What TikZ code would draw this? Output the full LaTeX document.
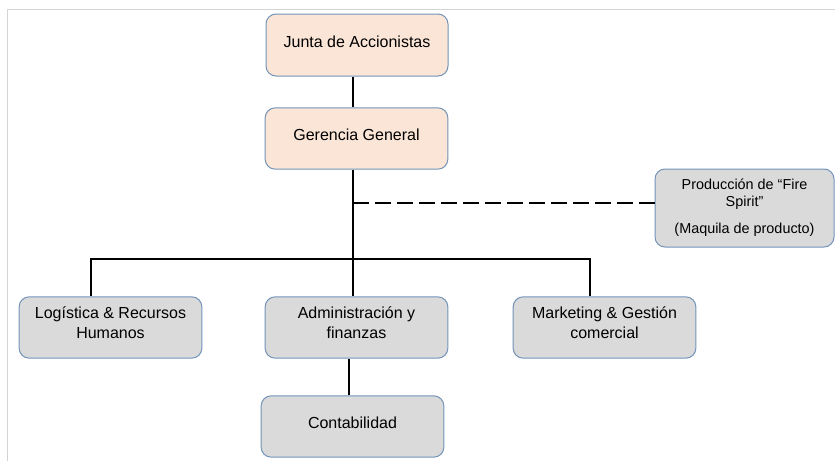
\documentclass[tikz,border=0pt]{standalone}
\usepackage{fontspec}
\setmainfont{Liberation Sans}
\definecolor{peach}{HTML}{FBE5D6}
\definecolor{boxgray}{HTML}{DADADA}
\definecolor{edgeblue}{HTML}{7393B9}
\definecolor{framegray}{HTML}{D4D4D4}

\begin{document}
\begin{tikzpicture}[x=0.75pt,y=-0.75pt,
  every node/.style={draw=edgeblue,line width=0.75pt,rounded corners=7.5pt,align=center,
    inner sep=2pt,minimum width=137pt,minimum height=46pt,font=\fontsize{12}{15}\selectfont},
  topbox/.style={fill=peach,text height=9pt,text depth=6pt},
  unitbox/.style={fill=boxgray},
  onerow/.style={text height=9pt,text depth=6pt},
  tworow/.style={text height=24pt,text depth=6.8pt},
  every path/.style={line width=1pt}]
\useasboundingbox (0,0) rectangle (835,461);
\draw[framegray,line width=0.75pt] (7,461) -- (7,9) -- (835,9);
\node[topbox,minimum width=136.5pt,minimum height=46.5pt] (junta) at (357,45) {Junta de Accionistas};
\node[topbox] (gerencia) at (356.5,138.5) {Gerencia General};
\node[unitbox,minimum width=134.25pt,minimum height=58.5pt,font=\fontsize{10.8}{12.75}\selectfont] (prod) at (744.5,208) {Producción de “Fire\\Spirit”\\[7.5pt](Maquila de producto)};
\node[unitbox,tworow] (logis) at (110.5,327.5) {Logística \& Recursos\\Humanos};
\node[unitbox,tworow] (admin) at (356.5,327.5) {Administración y\\finanzas};
\node[unitbox,tworow] (mark) at (604.5,327.5) {Marketing \& Gestión\\comercial};
\node[unitbox,onerow] (conta) at (352.5,426.5) {Contabilidad};
\coordinate (trunk) at (353,203);
\coordinate (lbus) at (91,259);
\coordinate (rbus) at (590,259);
\draw (junta.south -| trunk) -- (gerencia.north -| trunk);
\draw (gerencia.south -| trunk) -- (admin.north -| trunk);
\draw[dash pattern=on 12pt off 4.5pt] (trunk) -- (trunk -| prod.west);
\draw (lbus |- logis.north) -- (lbus) -- (rbus) -- (rbus |- mark.north);
\draw ([xshift=-2.6pt]conta.north) -- ([xshift=-2.6pt]conta.north |- admin.south);
\end{tikzpicture}
\end{document}
